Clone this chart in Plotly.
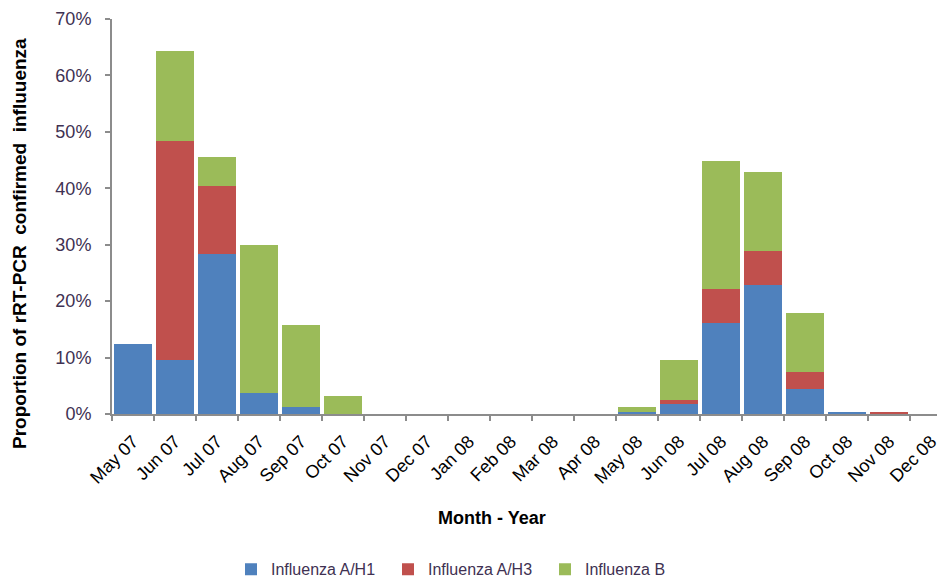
import plotly.graph_objects as go

months = ["May 07", "Jun 07", "Jul 07", "Aug 07", "Sep 07", "Oct 07", "Nov 07", "Dec 07",
          "Jan 08", "Feb 08", "Mar 08", "Apr 08", "May 08", "Jun 08", "Jul 08", "Aug 08",
          "Sep 08", "Oct 08", "Nov 08", "Dec 08"]

h1 = [0.124, 0.096, 0.284, 0.038, 0.012, 0.0, 0, 0, 0, 0, 0, 0,
      0.003, 0.017, 0.161, 0.229, 0.044, 0.003, 0.0, 0.0]
h3 = [0.0, 0.387, 0.120, 0.0, 0.0, 0.0, 0, 0, 0, 0, 0, 0,
      0.0, 0.008, 0.061, 0.060, 0.031, 0.0, 0.003, 0.0]
b = [0.0, 0.161, 0.052, 0.261, 0.146, 0.032, 0, 0, 0, 0, 0, 0,
     0.009, 0.071, 0.227, 0.140, 0.104, 0.0, 0.0, 0.0]

series = [("Influenza A/H1", h1, "#4F81BD"),
          ("Influenza A/H3", h3, "#C0504D"),
          ("Influenza B", b, "#9BBB59")]

fig = go.Figure()
for name, vals, col in series:
    fig.add_trace(go.Bar(x=months, y=vals, name=name, marker_color=col,
                         marker_line_width=0))

axis_col = "#8C8C8C"
txt_col = "#403152"
fig.update_layout(
    width=945, height=582,
    barmode="stack", bargap=0.08,
    paper_bgcolor="white", plot_bgcolor="white",
    margin=dict(l=104, r=0, t=11, b=176, autoexpand=False),
    font=dict(family="Liberation Sans, Arial, sans-serif", size=14, color="black"),
    showlegend=True,
    legend=dict(orientation="h", x=0.1415, xanchor="left", y=-0.35, yanchor="top",
                font=dict(size=16, color=txt_col),
                traceorder="normal", itemwidth=30, entrywidth=112,
                entrywidthmode="pixels"),
    xaxis=dict(range=[-0.5, 19.52], showline=True, linecolor=axis_col, linewidth=2,
               ticks="outside", tickson="boundaries", ticklen=5, tickcolor=axis_col,
               tickwidth=1.5, tickangle=-45, tickfont=dict(size=18, color="black"),
               ticklabelstandoff=8, automargin=False, showgrid=False),
    yaxis=dict(range=[0, 0.7], dtick=0.1, tickformat=".0%", showline=True,
               linecolor=axis_col, linewidth=2, ticks="outside", ticklen=5,
               tickcolor=axis_col, tickwidth=1.5, showgrid=False, zeroline=False,
               tickfont=dict(size=18, color=txt_col), ticklabelstandoff=10,
               automargin=False),
    annotations=[
        dict(text="<b>Proportion of rRT-PCR  confirmed  influuenza</b>",
             xref="paper", yref="paper", x=-0.1094, y=0.433, textangle=-90,
             xanchor="center", yanchor="middle", showarrow=False,
             font=dict(size=19, color="black")),
        dict(text="<b>Month - Year</b>", xref="paper", yref="paper",
             x=0.452, y=-0.263, xanchor="center", yanchor="middle", showarrow=False,
             font=dict(size=18, color="black")),
    ],
)

fig.write_html("out.html")
